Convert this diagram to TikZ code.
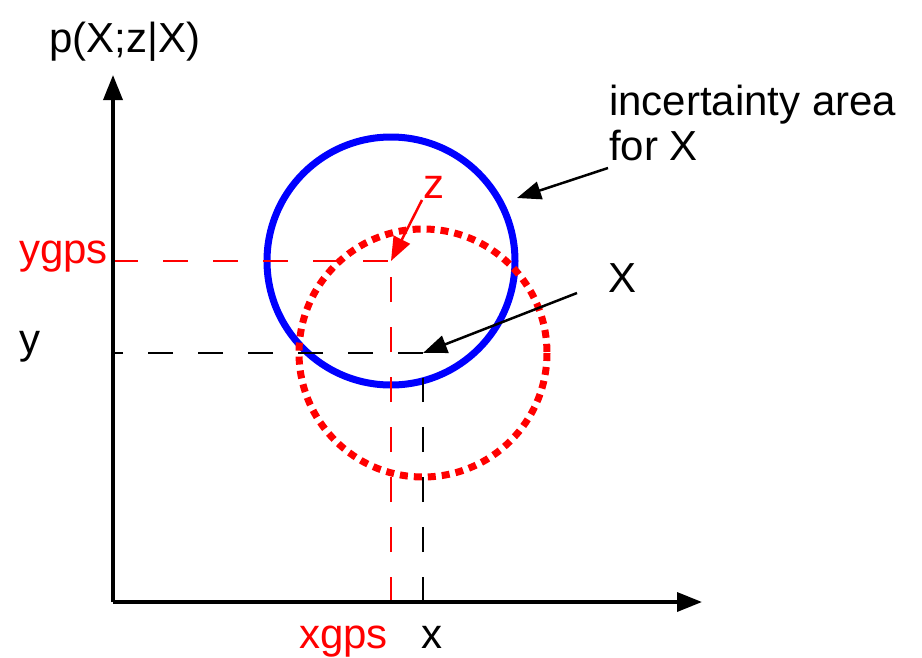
\documentclass[tikz,border=0pt]{standalone}
\usepackage{fontspec}
\setmainfont{Liberation Sans}
\usetikzlibrary{arrows.meta}
\begin{document}
\begin{tikzpicture}[x=1pt,y=-1pt,
  lbl/.style={inner sep=0pt,anchor=base west,font=\fontsize{42}{50}\selectfont},
  axis/.style={line width=3.5pt,-{Triangle[length=25pt,width=19pt]}},
  pointer/.style={line width=2.5pt,-{Triangle[length=24pt,width=18pt]}},
  guide/.style={line width=2.2pt,dash pattern=on 25pt off 25pt}]
\useasboundingbox (0,0) rectangle (922,657);
\coordinate (O) at (113,602);
\coordinate (ytop) at (113,75);
\coordinate (xend) at (702,602);
\coordinate (gps) at (391,261);
\coordinate (true) at (423,353);
\coordinate (gpsx) at (391,602);
\coordinate (gpsy) at (113,261);
\coordinate (tx) at (423,602);
\coordinate (txtop) at (423,378);
\coordinate (ty) at (113,353);
% circles
\draw[blue,line width=7pt] (gps) circle[radius=124];
\draw[red,line width=7pt,dash pattern=on 8pt off 6pt] (true) circle[radius=124];
% guides
\draw[guide,red] (gpsy) -- (gps);
\draw[guide,red] (gpsx) -- (gps);
\draw[guide,black] (true) -- (ty);
\draw[guide,black] (tx) -- (txtop);
% axes
\draw[axis] (O) -- (ytop);
\draw[axis] (O) -- (xend);
% labels
\node[lbl] (plbl) at (49,52) {p(X;z|X)};
\node[lbl,red] (ygps) at (19,263) {ygps};
\node[lbl] (ylbl) at (19,353) {y};
\node[lbl,red] (xgps) at (299,648) {xgps};
\node[lbl] (xlbl) at (421,648) {x};
\node[lbl,red] (zlbl) at (423,198) {z};
\node[lbl] (Xlbl) at (608,292) {X};
\node[lbl,align=left] (unc) at (609,115) {incertainty area};
\node[lbl] (unc2) at (609,160) {for X};
% pointers
\coordinate (zs) at (422,200);
\coordinate (Xs) at (577,293);
\coordinate (us) at (608,168);
\coordinate (ut) at (517,198);
\draw[pointer,red] (zs) -- (gps);
\draw[pointer] (Xs) -- (true);
\draw[pointer] (us) -- (ut);
\end{tikzpicture}
\end{document}
